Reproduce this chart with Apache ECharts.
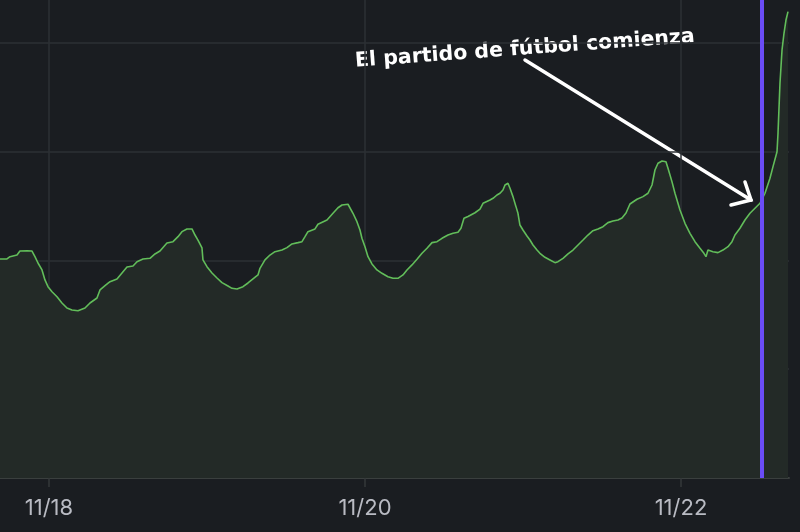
<!DOCTYPE html>
<html>
<head>
<meta charset="utf-8">
<style>
html,body{margin:0;padding:0;background:#1a1d21;}
#chart{width:800px;height:532px;}
</style>
<script src="https://cdn.jsdelivr.net/npm/echarts@6/dist/echarts.min.js"></script>
</head>
<body>
<div id="chart"></div>
<script>
// hours since 11/18 00:00
const hours = [-7.44,-6.38,-5.92,-4.86,-4.41,-3.34,-2.58,-2.13,-1.67,-1.06,-0.61,-0.15,0.46,1.22,1.97,2.73,3.49,4.41,4.71,5.47,6.23,7.29,7.75,8.51,9.27,10.33,11.09,11.85,12.76,13.37,14.28,15.34,16.10,16.86,17.92,18.84,19.60,20.20,20.96,21.72,22.18,22.63,23.24,23.39,24.00,24.76,25.52,26.28,27.19,27.80,28.56,29.47,30.23,30.99,31.75,32.05,32.81,33.57,34.33,35.39,36.15,36.91,37.82,38.43,38.89,39.34,40.41,40.86,41.16,42.23,43.14,43.90,44.51,45.42,45.72,46.18,46.78,47.24,47.54,48.00,48.46,49.06,49.82,50.58,51.49,52.25,53.01,53.77,54.38,55.14,55.90,56.66,57.42,58.18,58.94,59.70,60.61,61.37,62.13,62.58,63.04,63.65,64.71,65.47,65.93,66.99,67.45,68.05,68.51,68.96,69.27,69.72,70.03,70.48,70.94,71.24,71.54,72.00,72.61,73.06,73.52,74.13,74.58,75.34,76.10,76.86,77.32,78.08,78.84,79.60,80.36,81.12,81.87,82.63,83.39,84.15,84.91,85.67,86.43,87.04,87.65,88.25,89.32,90.23,90.99,91.60,92.05,92.51,93.12,93.72,94.03,94.63,95.09,95.85,96.61,97.37,98.13,98.89,99.49,99.80,100.10,100.86,101.62,102.38,103.14,103.75,104.20,104.96,105.72,106.48,107.24,108.00,108.76,109.52,109.98,110.59,110.74,111.04,111.35,111.65,111.95,112.26];
const values = [201.4,201.4,203.5,205.0,208.7,209.0,208.7,203.5,197.7,191.3,182.1,175.9,171.3,166.7,160.9,156.3,154.5,153.8,152.6,156.3,160.9,165.5,172.9,176.8,180.5,183.0,188.5,194.0,194.9,198.9,201.4,202.0,206.0,208.7,216.1,217.3,221.9,226.5,229.0,229.0,223.4,218.8,211.5,200.5,194.3,188.5,183.9,179.6,176.5,174.4,173.8,175.9,179.3,183.0,186.7,192.8,200.5,205.0,208.1,209.6,211.8,215.2,216.4,217.3,221.9,226.5,229.0,233.3,234.5,237.2,243.4,248.5,251.0,251.7,251.0,243.4,235.7,228.0,220.4,212.7,203.5,196.8,191.3,188.2,185.1,183.6,183.6,186.7,191.3,195.9,201.1,206.6,211.2,216.4,217.3,220.4,223.4,225.0,225.9,229.6,238.8,240.4,243.9,247.3,252.6,255.6,257.2,260.2,261.8,264.8,269.4,271.0,266.4,258.7,249.5,243.4,232.6,228.0,222.5,218.8,214.2,209.6,206.6,202.9,200.5,198.0,198.9,202.0,206.0,209.6,214.2,218.8,223.4,227.4,229.0,231.1,234.8,236.3,237.2,239.1,243.7,251.9,256.3,258.7,261.8,269.4,283.2,289.4,291.5,290.8,284.8,272.5,261.8,246.4,234.2,225.0,217.3,211.2,206.6,203.5,209.6,208.1,207.2,209.6,212.7,217.3,223.4,229.6,237.2,243.4,248.0,252.6,261.8,275.6,286.3,300.0,317.0,362.9,393.5,408.9,421.1,428.8];
const tickHours = [0, 48, 96];
const tickLabels = ['11/18', '11/20', '11/22'];
const kickoffHour = 108.3;
const annotationText = 'El partido de fútbol comienza';

const chart = echarts.init(document.getElementById('chart'));
const seriesData = hours.map((h, i) => [h, values[i]]);

chart.setOption({
  backgroundColor: '#1a1d21',
  animation: false,
  grid: { left: 0, right: 11, top: 0, bottom: 54, containLabel: false },
  xAxis: {
    type: 'value',
    min: -7.44,
    max: 112.41,
    axisLine: { show: true, lineStyle: { color: '#3a3f3e', width: 2 } },
    axisTick: { show: true, length: 9, customValues: tickHours, lineStyle: { color: '#34383a', width: 1.5 } },
    axisLabel: {
      customValues: tickHours,
      margin: 19,
      color: '#b9bbc3',
      fontFamily: 'Inter',
      fontSize: 22,
      formatter: function (v) { const i = tickHours.indexOf(v); return i >= 0 ? tickLabels[i] : ''; }
    },
    splitLine: { show: true, lineStyle: { color: '#2d3034', width: 1.5 } }
  },
  yAxis: {
    type: 'value',
    min: 0,
    max: 439.5,
    interval: 100,
    axisLine: { show: false },
    axisTick: { show: false },
    axisLabel: { show: false },
    splitLine: { show: true, showMaxLine: false, lineStyle: { color: '#2d3034', width: 1.5 } }
  },
  series: [{
    type: 'line',
    data: seriesData,
    showSymbol: false,
    symbol: 'none',
    lineStyle: { color: '#62bd5a', width: 1.6 },
    areaStyle: { color: '#232a27', opacity: 1 },
    markLine: {
      silent: true,
      symbol: ['none', 'none'],
      label: { show: false },
      lineStyle: { color: '#6a4cf6', width: 4, type: 'solid' },
      data: [{ xAxis: kickoffHour }]
    }
  }],
  graphic: [
    {
      type: 'text',
      x: 356, y: 72,
      rotation: 0.073,
      style: {
        text: annotationText,
        fill: '#ffffff',
        font: 'bold 20.5px "DejaVu Sans"',
        textAlign: 'left',
        textVerticalAlign: 'bottom'
      }
    },
    {
      type: 'line',
      shape: { x1: 525, y1: 60, x2: 751, y2: 200 },
      style: { stroke: '#ffffff', lineWidth: 3.5, lineCap: 'round' }
    },
    {
      type: 'polyline',
      shape: { points: [[731, 205], [751, 200], [745, 182]] },
      style: { stroke: '#ffffff', lineWidth: 3.5, fill: null, lineCap: 'round', lineJoin: 'miter' }
    }
  ]
});
</script>
</body>
</html>
